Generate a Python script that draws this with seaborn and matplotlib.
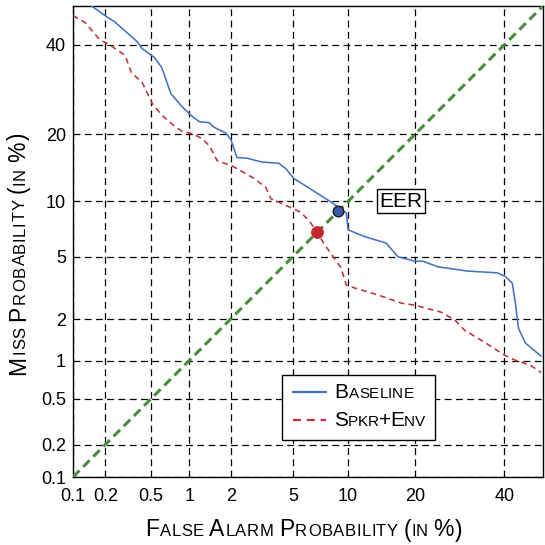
import math
import numpy as np
import pandas as pd
import seaborn as sns
import matplotlib
matplotlib.use("Agg")
import matplotlib.pyplot as plt
from matplotlib.lines import Line2D
from matplotlib.font_manager import FontProperties
from matplotlib.transforms import IdentityTransform

# DET curves (false alarm / miss, in %)
baseline_fa = [0.15, 0.21, 0.24, 0.38, 0.42, 0.53, 0.61, 0.72, 0.87, 1.04,
               1.19, 1.41, 1.53, 1.86, 2.01, 2.21, 2.58, 3.23, 4.12, 4.54,
               5.06, 5.56, 8.2, 8.7, 9.8, 10.0, 12.1, 15.1, 17.0, 20.0,
               21.5, 24.5, 31.0, 38.2, 40.2, 42.0, 42.8, 43.6, 45.4, 49.5]
baseline_miss = [50.0, 47.0, 46.0, 40.8, 39.0, 36.8, 34.3, 28.3, 25.6, 23.6,
                 22.4, 22.2, 21.3, 20.2, 19.0, 16.0, 15.9, 15.3, 15.1, 14.3,
                 12.9, 12.3, 9.9, 9.5, 8.7, 7.1, 6.5, 6.0, 5.0, 4.7,
                 4.7, 4.35, 4.1, 4.0, 3.8, 3.45, 2.55, 1.72, 1.35, 1.08]
spkr_env_fa = [0.1, 0.13, 0.18, 0.21, 0.30, 0.34, 0.42, 0.51, 0.61, 0.77,
               0.89, 1.06, 1.25, 1.41, 1.61, 2.05, 2.87, 3.42, 3.68, 4.12,
               5.56, 6.3, 7.7, 9.2, 9.8, 10.9, 13.9, 17.6, 20.0, 25.1,
               28.1, 30.3, 35.0, 40.0, 42.6, 46.7, 49.5]
spkr_env_miss = [47.5, 45.7, 41.1, 40.3, 37.3, 33.1, 30.8, 26.1, 23.7, 21.5,
                 20.5, 20.1, 19.2, 18.0, 15.5, 14.7, 12.9, 11.7, 10.3, 9.9,
                 8.8, 7.8, 5.7, 4.3, 3.35, 3.2, 2.9, 2.56, 2.48, 2.23,
                 1.97, 1.67, 1.37, 1.1, 1.01, 0.92, 0.81]
series_names = ["Baseline", "Spkr+Env"]
eer_values = [8.9, 6.9]
eer_label = "EER"
axis_limits = [0.1, 50]
tick_values = [0.1, 0.2, 0.5, 1, 2, 5, 10, 20, 40]
tick_labels = ["0.1", "0.2", "0.5", "1", "2", "5", "10", "20", "40"]
xlabel = "False Alarm Probability (in %)"
ylabel = "Miss Probability (in %)"

FONT = "Liberation Sans"
colors = {"Baseline": "#4472C4", "Spkr+Env": "#C0313A"}
dot_colors = ["#3B5DA8", "#C0282F"]
diag_color = "#4A8C3F"

# normal deviate scale (probit), built from a dense cdf table
z_grid = np.linspace(-7, 7, 28001)
cdf_grid = np.array([0.5 * math.erfc(-z / math.sqrt(2)) for z in z_grid])


def probit(x):
    return np.interp(np.asarray(x, dtype=float) / 100.0, cdf_grid, z_grid)


def inv_probit(z):
    return 100.0 * np.interp(np.asarray(z, dtype=float), z_grid, cdf_grid)


def advance(renderer, ch, prop):
    w1 = renderer.get_text_width_height_descent("H" + ch + "H", prop, ismath=False)[0]
    w0 = renderer.get_text_width_height_descent("HH", prop, ismath=False)[0]
    return w1 - w0


def small_caps(fig, label, x, y, big, small, length=None, rotation=0, ha="center"):
    """Draw label in fake small caps (pixel coordinates)."""
    renderer = fig.canvas.get_renderer()
    glyphs = [(ch.upper(), small if (ch.islower() or ch == " ") else big) for ch in label]
    adv = [advance(renderer, ch, FontProperties(family=FONT, size=s)) for ch, s in glyphs]
    scale = length / sum(adv) if length else 1.0
    ux, uy = (0, 1) if rotation == 90 else (1, 0)
    pos = -sum(adv) * scale / 2 if ha == "center" else 0.0
    for (ch, s), a in zip(glyphs, adv):
        if ch != " ":
            fig.text(x + ux * pos, y + uy * pos, ch, fontsize=s, family=FONT,
                     rotation=rotation, rotation_mode="anchor", ha="left",
                     va="baseline", transform=IdentityTransform(), color="black")
        pos += a * scale


sns.set_theme(style="white")
plt.rcParams["font.family"] = [FONT, "DejaVu Sans"]
plt.rcParams["text.color"] = "black"

df = pd.concat([
    pd.DataFrame({"fa": baseline_fa, "miss": baseline_miss, "system": series_names[0]}),
    pd.DataFrame({"fa": spkr_env_fa, "miss": spkr_env_miss, "system": series_names[1]}),
])

fig = plt.figure(figsize=(5.45, 5.45), dpi=100)
ax = fig.add_axes([73 / 545, 68 / 545, 470 / 545, 471 / 545])
ax.set_xscale("function", functions=(probit, inv_probit))
ax.set_yscale("function", functions=(probit, inv_probit))

ax.plot(axis_limits, axis_limits, color=diag_color, lw=2.2,
        dashes=(3, 1.7), zorder=3)

sns.lineplot(data=df, x="fa", y="miss", hue="system", style="system",
             palette=colors, dashes={"Baseline": "", "Spkr+Env": (3.6, 2.6)},
             estimator=None, sort=False, legend=False, linewidth=1.15,
             ax=ax, zorder=4)

ax.scatter(eer_values[:1], eer_values[:1], s=58, color=dot_colors[0],
           edgecolor="#1a1a1a", linewidth=1.0, zorder=6)
ax.scatter(eer_values[1:], eer_values[1:], s=75, color=dot_colors[1],
           edgecolor=dot_colors[1], linewidth=0.5, zorder=6)
ax.text(17.5, 10.0, eer_label, ha="center", va="center", fontsize=15,
        color="black", zorder=7,
        bbox=dict(boxstyle="square,pad=0.12", fc="white", ec="black", lw=1.0))

ax.set_xlim(axis_limits)
ax.set_ylim(axis_limits)
ax.set_xticks(tick_values, labels=tick_labels)
ax.set_yticks(tick_values, labels=tick_labels)
ax.minorticks_off()
ax.tick_params(axis="both", length=0, labelsize=13, colors="black")
ax.tick_params(axis="x", pad=8)
ax.tick_params(axis="y", pad=5)
ax.grid(True, color="black", lw=0.9, linestyle=(0, (5.5, 3.5)))
ax.set_axisbelow(True)
ax.set_xlabel("")
ax.set_ylabel("")
for sp in ax.spines.values():
    sp.set_color("black")
    sp.set_linewidth(1.0)

handles = [Line2D([], [], color=colors["Baseline"], lw=1.6),
           Line2D([], [], color=colors["Spkr+Env"], lw=1.6, dashes=(3.6, 2.6))]
leg = ax.legend(handles, ["BASELINE", "SPKR+ENV"], loc="lower left",
                bbox_to_anchor=(0.4447, 0.0786), borderaxespad=0,
                fontsize=12, fancybox=False, framealpha=1, edgecolor="black",
                handlelength=2.0, handletextpad=0.5, borderpad=0.65,
                labelspacing=0.8)
leg.get_frame().set_linewidth(1.0)
leg.set_zorder(8)

fig.canvas.draw()
legend_lengths = [79, 90]
for txt, name, length in zip(leg.get_texts(), series_names, legend_lengths):
    bx, by = txt.get_transform().transform((0, 0))
    txt.set_alpha(0)
    small_caps(fig, name, bx, by, 15, 11, length=length, ha="left")

small_caps(fig, xlabel, 304, 545 - 536.5, 16.5, 12, length=318)
small_caps(fig, ylabel, 25, 545 - 253.5, 16.5, 12, length=243, rotation=90)

fig.savefig("out.png", dpi=100)
